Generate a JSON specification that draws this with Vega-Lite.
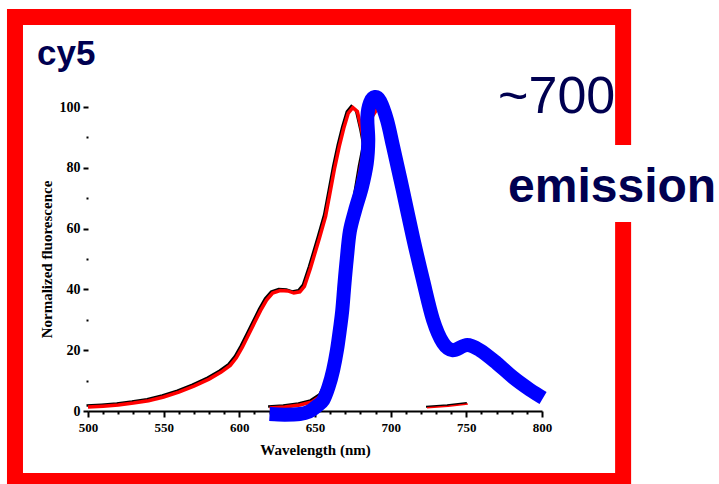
{
  "$schema": "https://vega.github.io/schema/vega-lite/v6.json",
  "width": 454,
  "height": 304,
  "autosize": {"type": "none"},
  "padding": {"left": 88, "top": 107, "right": 177, "bottom": 73},
  "background": "white",
  "config": {"view": {"stroke": null}},
  "resolve": {"axis": {"x": "independent", "y": "independent"}},
  "datasets": {
    "exc": [
      {"nm": 500, "v": 1.3}, {"nm": 510, "v": 1.6}, {"nm": 520, "v": 2.0}, {"nm": 530, "v": 2.6},
      {"nm": 540, "v": 3.4}, {"nm": 550, "v": 4.6}, {"nm": 560, "v": 6.2}, {"nm": 570, "v": 8.2},
      {"nm": 580, "v": 10.5}, {"nm": 588, "v": 12.8}, {"nm": 594, "v": 15}, {"nm": 598, "v": 17.5},
      {"nm": 602, "v": 21}, {"nm": 606, "v": 25}, {"nm": 610, "v": 29}, {"nm": 614, "v": 33},
      {"nm": 618, "v": 36.5}, {"nm": 622, "v": 38.8}, {"nm": 627, "v": 39.6}, {"nm": 632, "v": 39.5},
      {"nm": 636, "v": 38.8}, {"nm": 640, "v": 39.2}, {"nm": 643, "v": 41}, {"nm": 647, "v": 47},
      {"nm": 653, "v": 57}, {"nm": 657, "v": 64}, {"nm": 660, "v": 72}, {"nm": 663, "v": 80},
      {"nm": 666, "v": 87}, {"nm": 669, "v": 93}, {"nm": 672, "v": 98}, {"nm": 675, "v": 99.8},
      {"nm": 678, "v": 98.5}, {"nm": 681, "v": 92}, {"nm": 684, "v": 84}
    ],
    "tail": [
      {"nm": 724, "v": 1.2}, {"nm": 738, "v": 1.7}, {"nm": 751, "v": 2.5}
    ],
    "em": [
      {"nm": 620, "v": 1}, {"nm": 630, "v": 1.3}, {"nm": 640, "v": 2}, {"nm": 648, "v": 3},
      {"nm": 654, "v": 5}, {"nm": 658, "v": 9}, {"nm": 663, "v": 20}, {"nm": 668, "v": 37},
      {"nm": 672, "v": 55}, {"nm": 676, "v": 68}, {"nm": 680, "v": 80}, {"nm": 684, "v": 90},
      {"nm": 688, "v": 97}, {"nm": 692, "v": 100}, {"nm": 696, "v": 97}, {"nm": 700, "v": 90},
      {"nm": 705, "v": 80}, {"nm": 710, "v": 68}, {"nm": 715, "v": 57}, {"nm": 720, "v": 46},
      {"nm": 725, "v": 36}, {"nm": 730, "v": 28}, {"nm": 735, "v": 23.5}, {"nm": 740, "v": 21.5},
      {"nm": 745, "v": 21}, {"nm": 750, "v": 21.5}, {"nm": 760, "v": 19.5}, {"nm": 770, "v": 16.3},
      {"nm": 780, "v": 12.5}, {"nm": 790, "v": 8.8}, {"nm": 800, "v": 5.5}
    ],
    "blue": [
      {"i": 1, "nm": 620, "v": -1}, {"i": 2, "nm": 630, "v": -1.2}, {"i": 3, "nm": 640, "v": -1},
      {"i": 4, "nm": 646, "v": -0.2}, {"i": 5, "nm": 651, "v": 1.5}, {"i": 6, "nm": 655.5, "v": 3.6},
      {"i": 7, "nm": 659, "v": 8}, {"i": 8, "nm": 662, "v": 13.5}, {"i": 9, "nm": 664.5, "v": 20},
      {"i": 10, "nm": 666.5, "v": 27}, {"i": 11, "nm": 668, "v": 33}, {"i": 12, "nm": 669.5, "v": 42},
      {"i": 13, "nm": 671, "v": 50}, {"i": 14, "nm": 673, "v": 59}, {"i": 15, "nm": 676.5, "v": 66},
      {"i": 16, "nm": 681, "v": 73.7}, {"i": 17, "nm": 684.2, "v": 81.5}, {"i": 18, "nm": 685.2, "v": 89},
      {"i": 19, "nm": 684.6, "v": 96.7}, {"i": 20, "nm": 686.4, "v": 101.5}, {"i": 21, "nm": 689.7, "v": 103.3},
      {"i": 22, "nm": 693, "v": 102}, {"i": 23, "nm": 697.6, "v": 95.7}, {"i": 24, "nm": 701.6, "v": 87},
      {"i": 25, "nm": 708, "v": 72.7}, {"i": 26, "nm": 714.8, "v": 57}, {"i": 27, "nm": 721.4, "v": 43},
      {"i": 28, "nm": 728, "v": 30}, {"i": 29, "nm": 734.6, "v": 22.4}, {"i": 30, "nm": 741, "v": 20},
      {"i": 31, "nm": 750.5, "v": 21.7}, {"i": 32, "nm": 759, "v": 20}, {"i": 33, "nm": 770, "v": 15.8},
      {"i": 34, "nm": 781, "v": 11}, {"i": 35, "nm": 792, "v": 7}, {"i": 36, "nm": 800.7, "v": 4.3}
    ],
    "frame": [
      {"x1": 451.75, "x2": 853.6, "y1": 129.6, "y2": -23.0}
    ],
    "gap": [
      {"x1": 840, "x2": 866, "y1": 87.5, "y2": 62.2}
    ],
    "labels": [
      {"t": "cy5", "nm": 466.3, "v": 113.8, "kind": "title"},
      {"t": "~700", "nm": 771, "v": 98, "kind": "big"},
      {"t": "emission", "nm": 777.6, "v": 68.8, "kind": "bold"}
    ]
  },
  "layer": [
    {
      "data": {"name": "frame"},
      "mark": {"type": "rect", "fill": null, "stroke": "#ff0000", "strokeWidth": 16, "clip": false},
      "encoding": {
        "x": {"field": "x1", "type": "quantitative", "scale": {"domain": [500, 800], "nice": false, "zero": false},
          "axis": {
            "orient": "bottom",
            "values": [500, 550, 600, 650, 700, 750, 800],
            "format": "d",
            "tickSize": 6,
            "tickWidth": 2,
            "tickColor": "black",
            "domainColor": "black",
            "domainWidth": 2,
            "grid": false,
            "labelFont": "Liberation Serif",
            "labelFontWeight": "bold",
            "labelFontSize": 13,
            "labelColor": "black",
            "labelPadding": 4,
            "labelOverlap": false,
            "labelFlush": false,
            "title": "Wavelength (nm)",
            "titleFont": "Liberation Serif",
            "titleFontWeight": "bold",
            "titleFontSize": 15,
            "titleColor": "black",
            "titlePadding": 8
          }},
        "x2": {"field": "x2"},
        "y": {"field": "y1", "type": "quantitative", "scale": {"domain": [0, 100], "nice": false, "zero": false},
          "axis": {
            "orient": "left",
            "values": [0, 20, 40, 60, 80, 100],
            "domain": false,
            "grid": false,
            "tickSize": 5,
            "tickWidth": 2,
            "tickColor": "black",
            "labelFont": "Liberation Serif",
            "labelFontWeight": "bold",
            "labelFontSize": 14,
            "labelColor": "black",
            "labelPadding": 3,
            "labelOverlap": false,
            "labelFlush": false,
            "title": "Normalized fluorescence",
            "titleFont": "Liberation Serif",
            "titleFontWeight": "bold",
            "titleFontSize": 15,
            "titleColor": "black",
            "titlePadding": 5
          }},
        "y2": {"field": "y2"}
      }
    },
    {
      "data": {"name": "gap"},
      "mark": {"type": "rect", "fill": "white", "clip": false},
      "encoding": {
        "x": {"field": "x1", "type": "quantitative",
          "axis": {
            "orient": "bottom",
            "values": [510,520,530,540,560,570,580,590,610,620,630,640,660,670,680,690,710,720,730,740,760,770,780,790],
            "labels": false, "domain": false, "grid": false, "title": null,
            "tickSize": 3, "tickWidth": 2, "tickColor": "black"
          }},
        "x2": {"field": "x2"},
        "y": {"field": "y1", "type": "quantitative",
          "axis": {
            "orient": "left",
            "values": [10, 30, 50, 70, 90],
            "labels": false, "domain": false, "grid": false, "title": null,
            "tickSize": 2, "tickWidth": 2, "tickColor": "black"
          }},
        "y2": {"field": "y2"}
      }
    },
    {
      "data": {"name": "exc"},
      "mark": {"type": "line", "color": "black", "strokeWidth": 2.5, "xOffset": -1.5, "yOffset": -1.5},
      "encoding": {"x": {"field": "nm", "type": "quantitative", "axis": null}, "y": {"field": "v", "type": "quantitative", "axis": null}}
    },
    {
      "data": {"name": "exc"},
      "mark": {"type": "line", "color": "#ff0000", "strokeWidth": 3.5},
      "encoding": {"x": {"field": "nm", "type": "quantitative", "axis": null}, "y": {"field": "v", "type": "quantitative", "axis": null}}
    },
    {
      "data": {"name": "tail"},
      "mark": {"type": "line", "color": "black", "strokeWidth": 2, "xOffset": -1, "yOffset": -0.5},
      "encoding": {"x": {"field": "nm", "type": "quantitative", "axis": null}, "y": {"field": "v", "type": "quantitative", "axis": null}}
    },
    {
      "data": {"name": "tail"},
      "mark": {"type": "line", "color": "#ff0000", "strokeWidth": 1.5, "yOffset": 0.5},
      "encoding": {"x": {"field": "nm", "type": "quantitative", "axis": null}, "y": {"field": "v", "type": "quantitative", "axis": null}}
    },
    {
      "data": {"name": "em"},
      "mark": {"type": "line", "color": "black", "strokeWidth": 2.5, "xOffset": -1.5, "yOffset": -1.5},
      "encoding": {"x": {"field": "nm", "type": "quantitative", "axis": null}, "y": {"field": "v", "type": "quantitative", "axis": null}}
    },
    {
      "data": {"name": "em"},
      "mark": {"type": "line", "color": "#ff0000", "strokeWidth": 3.5},
      "encoding": {"x": {"field": "nm", "type": "quantitative", "axis": null}, "y": {"field": "v", "type": "quantitative", "axis": null}}
    },
    {
      "data": {"name": "blue"},
      "mark": {"type": "line", "color": "#0000ff", "strokeWidth": 14, "strokeCap": "butt", "strokeJoin": "round", "interpolate": "cardinal"},
      "encoding": {
        "x": {"field": "nm", "type": "quantitative", "axis": null},
        "y": {"field": "v", "type": "quantitative", "axis": null},
        "order": {"field": "i", "type": "quantitative"}
      }
    },
    {
      "data": {"name": "labels"},
      "transform": [{"filter": "datum.kind === 'title'"}],
      "mark": {"type": "text", "align": "left", "baseline": "alphabetic", "font": "Liberation Sans", "fontWeight": "bold", "fontSize": 35, "color": "#000050"},
      "encoding": {"x": {"field": "nm", "type": "quantitative", "axis": null}, "y": {"field": "v", "type": "quantitative", "axis": null}, "text": {"field": "t"}}
    },
    {
      "data": {"name": "labels"},
      "transform": [{"filter": "datum.kind === 'big'"}],
      "mark": {"type": "text", "align": "left", "baseline": "alphabetic", "font": "Liberation Sans", "fontWeight": "normal", "fontSize": 52, "color": "#000050"},
      "encoding": {"x": {"field": "nm", "type": "quantitative", "axis": null}, "y": {"field": "v", "type": "quantitative", "axis": null}, "text": {"field": "t"}}
    },
    {
      "data": {"name": "labels"},
      "transform": [{"filter": "datum.kind === 'bold'"}],
      "mark": {"type": "text", "align": "left", "baseline": "alphabetic", "font": "Liberation Sans", "fontWeight": "bold", "fontSize": 48, "color": "#000050"},
      "encoding": {"x": {"field": "nm", "type": "quantitative", "axis": null}, "y": {"field": "v", "type": "quantitative", "axis": null}, "text": {"field": "t"}}
    }
  ]
}
